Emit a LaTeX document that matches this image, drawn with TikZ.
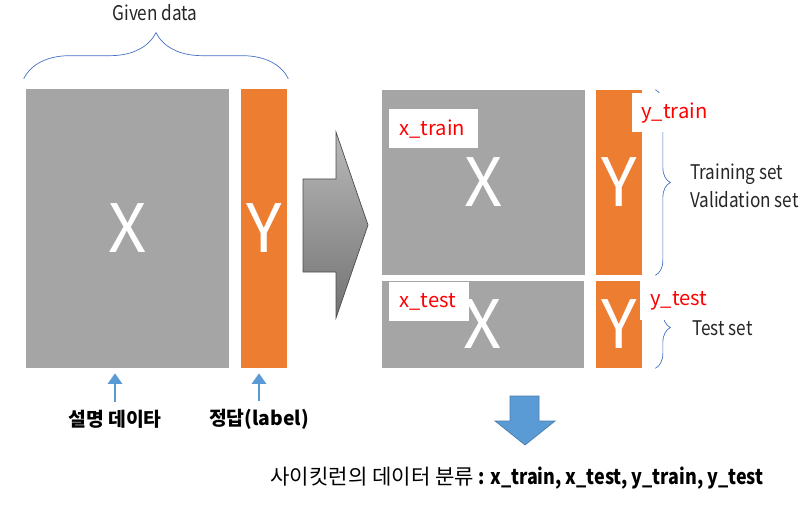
\documentclass[tikz,border=0pt]{standalone}
\usepackage{fontspec}
\setmainfont{Noto Sans CJK KR}
\newfontfamily\narrowfont[FakeStretch=0.85]{Noto Sans CJK KR}
\usetikzlibrary{decorations.pathreplacing, arrows.meta, positioning}
\definecolor{boxgray}{HTML}{A5A5A5}
\definecolor{boxorange}{HTML}{ED7D31}
\definecolor{arrowblue}{HTML}{5B9BD5}
\definecolor{bracecol}{HTML}{4472C4}

\begin{document}
\begin{tikzpicture}[x=0.02cm, y=-0.02cm,
		% data blocks (X and Y)
		block/.style={
			fill=#1,
			draw=none,
			text=white,
			inner sep=0pt,
			font=\fontsize{38}{38}\selectfont,
		},
		% white tags with red names
		tag/.style={
			fill=white,
			text=red,
			anchor=north west,
			inner xsep=0.2cm,
			inner ysep=0pt,
			minimum height=0.78cm,
			text width=#1,
			align=left,
			font=\fontsize{11.5}{13}\selectfont
		},
		% braces
		databrace/.style={
			decorate,
			decoration={brace, amplitude=#1},
			draw=bracecol,
			thin
		},
		% blue arrows under the blocks
		uparrow/.style={
			-{Triangle[width=8pt,length=6pt]},
			draw=arrowblue,
			line width=1.7pt,
			shorten <=1pt,
			shorten >=0.1cm
		},
		note/.style={
			font=\narrowfont\fontsize{11.5}{16}\selectfont,
			text=black!85,
			align=left
		}
	]
	\useasboundingbox (0,0) rectangle (810,506);
	
	% --- GIVEN DATA ---
	\node[block=boxgray, minimum width=4.06cm, minimum height=5.58cm] (gx) at (127.5,228.5) {X};
	\node[block=boxorange, minimum width=0.92cm, minimum height=5.58cm] (gy) at (264,228.5) {Y};
	
	\draw[databrace=0.92cm] ([xshift=-0.04cm,yshift=0.2cm]gx.north west) -- ([xshift=0.02cm,yshift=0.2cm]gy.north east);
	\node[note] (given) at (155,13) {Given data};
	
	% --- LABELS UNDER THE BLOCKS ---
	\node[font=\bfseries\fontsize{11}{13}\selectfont] (lblx) at (115,419) {설명 데이타};
	\node[font=\bfseries\fontsize{11}{13}\selectfont] (lbly) at (259,419) {정답(label)};
	\draw[uparrow] (lblx.north) -- (lblx.north |- gx.south);
	\draw[uparrow] (lbly.north) -- (lbly.north |- gy.south);
	
	% --- BIG ARROW ---
	\draw[draw=black!70, top color=gray!55, bottom color=gray!90!black]
	(303,179) -- (336,179) -- (336,132) -- (368,225) -- (336,318) -- (336,272) -- (303,272) -- cycle;
	
	% --- SPLIT DATA ---
	\node[block=boxgray, minimum width=4.06cm, minimum height=3.7cm] (trx) at (483.5,182.5) {X};
	\node[block=boxorange, minimum width=0.92cm, minimum height=3.7cm] (try) at (619,182.5) {Y};
	\node[block=boxgray, minimum width=4.04cm, minimum height=1.74cm] (tex) at (483,324.5) {X};
	\node[block=boxorange, minimum width=0.92cm, minimum height=1.74cm] (tey) at (619,324.5) {Y};
	
	\draw[databrace=0.3cm] ([xshift=0.26cm]try.north east) -- ([xshift=0.26cm]try.south east);
	\draw[databrace=0.3cm] ([xshift=0.26cm,yshift=-0.12cm]tey.north east) -- ([xshift=0.26cm]tey.south east);
	
	\node[note, anchor=west] (trnote) at (684,186) {Training set\\Validation set};
	\node[note, anchor=west] (tenote) at (686,328) {Test set};
	
	% --- TAGS ---
	\node[tag=1.38cm] (xtr) at (389,109) {x\_train};
	\node[tag=1.2cm] (xte) at (389,282) {x\_test};
	\node[tag=1.26cm, inner xsep=0.18cm] (ytr) at (632,93) {y\_train};
	\node[tag=1.1cm] (yte) at (640,281) {y\_test};
	
	% --- RESULT ---
	\draw[draw=arrowblue!80!black, fill=arrowblue]
	(510,396) -- (539,396) -- (539,421) -- (555,421) -- (525,445) -- (495,421) -- (510,421) -- cycle;
	\node[font=\fontsize{12}{14}\selectfont] (result) at (517,478) {사이킷런의 데이터 분류 {\narrowfont\bfseries : x\_train, x\_test, y\_train, y\_test}};
	
\end{tikzpicture}
\end{document}
